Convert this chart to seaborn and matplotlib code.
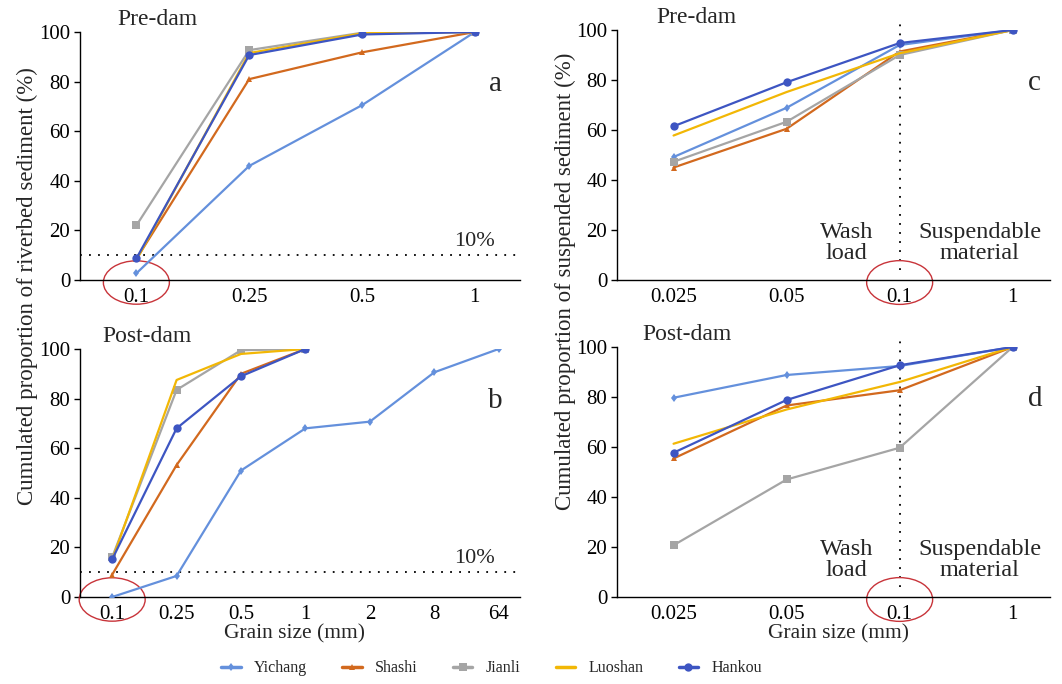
"""
Cumulated grain-size proportions, pre- and post-dam (riverbed and suspended sediment)
"""
import matplotlib
matplotlib.use('Agg')
import matplotlib.pyplot as plt
import matplotlib.transforms as mtransforms
from matplotlib.patches import Ellipse
from matplotlib.lines import Line2D
import seaborn as sns
import pandas as pd

stations = ['Yichang', 'Shashi', 'Jianli', 'Luoshan', 'Hankou']

# riverbed sediment, grain size classes (mm)
bed_pre_sizes = ['0.1', '0.25', '0.5', '1']
bed_pre_yichang = [2.7, 46, 70.5, 100]
bed_pre_shashi = [8.5, 81, 91.8, 100]
bed_pre_jianli = [22, 92.7, 99.7, 100]
bed_pre_luoshan = [8, 91.5, 99.5, 100]
bed_pre_hankou = [8.7, 90.7, 99, 100]

bed_post_sizes = ['0.1', '0.25', '0.5', '1', '2', '8', '64']
bed_post_yichang = [0, 8.5, 51, 68, 70.7, 90.6, 100]
bed_post_shashi = [9, 53.2, 90, 100]
bed_post_jianli = [16, 83.5, 99.5, 100]
bed_post_luoshan = [15, 87.5, 98, 100]
bed_post_hankou = [15.2, 68, 89, 100]

# suspended sediment
sus_sizes = ['0.025', '0.05', '0.1', '1']
sus_pre_yichang = [49.2, 68.9, 94, 100]
sus_pre_shashi = [45, 60.5, 91.4, 100]
sus_pre_jianli = [47.3, 63.3, 90, 100]
sus_pre_luoshan = [57.8, 75.2, 90.7, 100]
sus_pre_hankou = [61.5, 79.1, 94.8, 100]

sus_post_yichang = [79.7, 88.8, 92.4, 100]
sus_post_shashi = [55.4, 76.6, 82.7, 100]
sus_post_jianli = [20.7, 47, 59.7, 100]
sus_post_luoshan = [61.3, 75, 86, 100]
sus_post_hankou = [57.7, 78.8, 92.7, 100]

colors = {'Yichang': '#6490DC', 'Shashi': '#D2691E', 'Jianli': '#A5A5A5',
          'Luoshan': '#F2B705', 'Hankou': '#3D55C2'}
markers = {'Yichang': 'd', 'Shashi': '^', 'Jianli': 's', 'Luoshan': '', 'Hankou': 'o'}
msizes = {'Yichang': 4.5, 'Shashi': 5, 'Jianli': 6, 'Luoshan': 0, 'Hankou': 6}


def long_df(sizes, series):
    rows = []
    for name, vals in zip(stations, series):
        for i, v in enumerate(vals):
            rows.append({'station': name, 'pos': i, 'size': sizes[i], 'value': v})
    return pd.DataFrame(rows)


sns.set_theme(style='white')
plt.rcParams['font.family'] = ['Liberation Serif', 'DejaVu Serif']
plt.rcParams['axes.linewidth'] = 1.0

fig = plt.figure(figsize=(10.62, 6.84), dpi=100)
ax_a = fig.add_axes([0.0753, 0.5906, 0.4143, 0.3626])
ax_b = fig.add_axes([0.0753, 0.1272, 0.4143, 0.3626])
ax_c = fig.add_axes([0.581, 0.5906, 0.4077, 0.3655])
ax_d = fig.add_axes([0.581, 0.1272, 0.4077, 0.3655])

# axes, sizes, series, period label, period x, letter, letter x, kind, xmax
panels = [
    (ax_a, bed_pre_sizes, [bed_pre_yichang, bed_pre_shashi, bed_pre_jianli, bed_pre_luoshan, bed_pre_hankou],
     'Pre-dam', 0.086, 'a', 0.945, 'bed', 3.4),
    (ax_b, bed_post_sizes, [bed_post_yichang, bed_post_shashi, bed_post_jianli, bed_post_luoshan, bed_post_hankou],
     'Post-dam', 0.052, 'b', 0.945, 'bed', 6.33),
    (ax_c, sus_sizes, [sus_pre_yichang, sus_pre_shashi, sus_pre_jianli, sus_pre_luoshan, sus_pre_hankou],
     'Pre-dam', 0.092, 'c', 0.965, 'sus', 3.33),
    (ax_d, sus_sizes, [sus_post_yichang, sus_post_shashi, sus_post_jianli, sus_post_luoshan, sus_post_hankou],
     'Post-dam', 0.058, 'd', 0.965, 'sus', 3.33),
]

for ax, sizes, series, period, px, letter, lx, kind, xmax in panels:
    df = long_df(sizes, series)
    for name in stations:
        sub = df[df['station'] == name]
        sns.lineplot(data=sub, x='pos', y='value', ax=ax, color=colors[name],
                     marker=markers[name] if markers[name] else None,
                     markersize=msizes[name], markeredgewidth=0, linewidth=1.6,
                     legend=False, zorder=3 if name != 'Hankou' else 4)
    ax.set_xlim(-0.5, xmax)
    ax.set_ylim(0, 100)
    ax.set_xticks(range(len(sizes)))
    ax.set_xticklabels(sizes)
    ax.set_yticks(range(0, 101, 20))
    ax.tick_params(axis='both', labelsize=15, colors='black')
    ax.tick_params(axis='y', length=4, width=1, direction='out', left=True, pad=3)
    ax.tick_params(axis='x', length=0, pad=6)
    ax.set_xlabel('')
    ax.set_ylabel('')
    for side in ['top', 'right']:
        ax.spines[side].set_visible(False)
    for side in ['left', 'bottom']:
        ax.spines[side].set_color('black')
    ax.text(px, 1.05, period, transform=ax.transAxes, fontsize=17, ha='left', va='center')
    ax.text(lx, 0.79, letter, transform=ax.transAxes, fontsize=21, ha='center', va='center')

    blend = mtransforms.blended_transform_factory(ax.transData, ax.transAxes)
    if kind == 'bed':
        ax.axhline(10, color='black', linestyle=(0, (1, 4)), linewidth=1.3, zorder=1)
        ax.text(0.943, 0.117, '10%', transform=ax.transAxes, fontsize=16, ha='right', va='bottom')
        cx = 0
    else:
        cx = sizes.index('0.1')
        ax.plot([cx, cx], [0.04, 1.048], transform=blend, color='black',
                linestyle=(0, (1, 4)), linewidth=1.3, clip_on=False, zorder=1)
        ax.text(cx - 0.47, 0.065, 'Wash\nload', transform=blend, fontsize=17.5,
                ha='center', va='bottom', linespacing=1.0)
        ax.text(cx + 0.71, 0.065, 'Suspendable\nmaterial', transform=blend, fontsize=17.5,
                ha='center', va='bottom', linespacing=1.0)
    # red ellipse around the 0.1 mm tick label
    width = 66 / (ax.get_position().width * 1062) * (xmax + 0.5)
    ax.add_patch(Ellipse((cx, -0.01), width=width, height=0.175, transform=blend,
                         fill=False, edgecolor='#C8343A', linewidth=1.0, clip_on=False))

fig.text(0.026, 0.582, 'Cumulated proportion of riverbed sediment (%)', rotation=90,
         fontsize=16.5, ha='center', va='center')
fig.text(0.532, 0.589, 'Cumulated proportion of suspended sediment (%)', rotation=90,
         fontsize=16.5, ha='center', va='center')
fig.text(0.277, 0.074, 'Grain size (mm)', fontsize=15.5, ha='center', va='center')
fig.text(0.790, 0.074, 'Grain size (mm)', fontsize=15.5, ha='center', va='center')

handles = [Line2D([], [], color=colors[n], marker=markers[n] if markers[n] else None,
                  markersize=msizes[n], markeredgewidth=0, linewidth=2.5) for n in stations]
fig.legend(handles, stations, loc='center', bbox_to_anchor=(0.463, 0.023), ncol=5,
           frameon=False, fontsize=11.5, handlelength=1.2, handletextpad=0.85,
           columnspacing=2.2)

plt.savefig('out.png', dpi=100)
plt.close()
